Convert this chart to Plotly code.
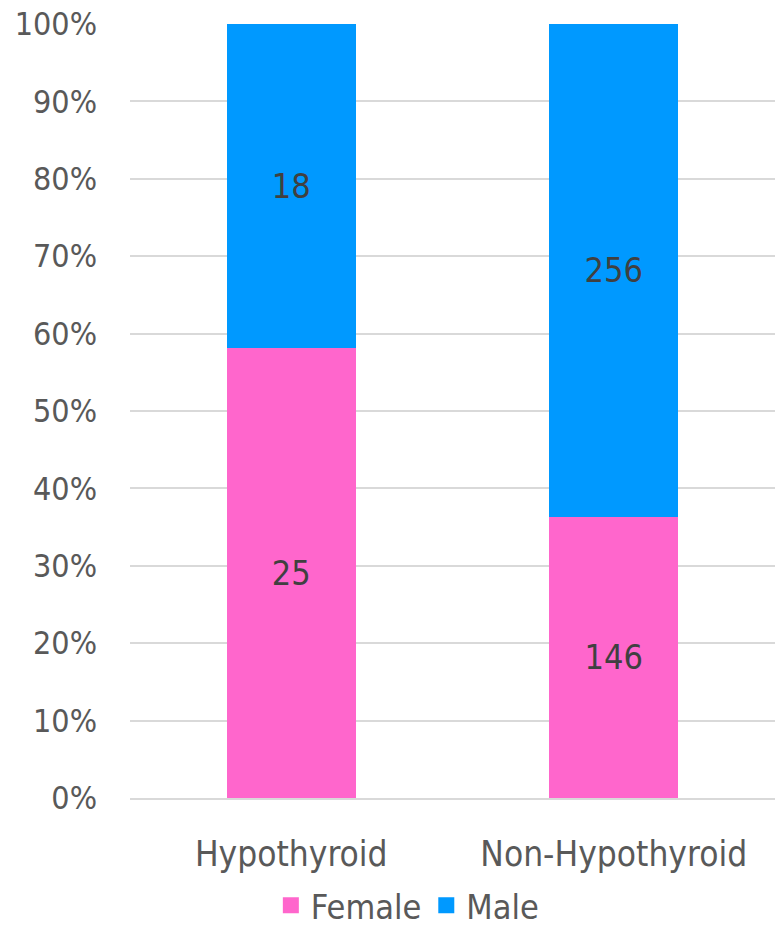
import plotly.graph_objects as go

categories = ["Hypothyroid", "Non-Hypothyroid"]
female_counts = [25, 146]
male_counts = [18, 256]
y_ticks = [0, 10, 20, 30, 40, 50, 60, 70, 80, 90, 100]

FONT = "DejaVu Sans Condensed, DejaVu Sans"
female_color = "#FF66CC"
male_color = "#0099FF"

totals = [f + m for f, m in zip(female_counts, male_counts)]
female_pct = [100 * f / t for f, t in zip(female_counts, totals)]
male_pct = [100 * m / t for m, t in zip(male_counts, totals)]

fig = go.Figure()
for name, pct, counts, color in [
    ("Female", female_pct, female_counts, female_color),
    ("Male", male_pct, male_counts, male_color),
]:
    fig.add_trace(go.Bar(
        name=name, x=categories, y=pct,
        text=[str(v) for v in counts],
        marker=dict(color=color, line=dict(width=0)),
        textposition="inside", insidetextanchor="middle",
        textfont=dict(family=FONT, size=34, color="#404040"),
        hoverinfo="skip", width=0.4, showlegend=False,
    ))

# legend entries with larger square swatches
for name, color in [("Female", female_color), ("Male", male_color)]:
    fig.add_trace(go.Scatter(
        name=name, x=[None], y=[None], mode="markers",
        marker=dict(symbol="square", size=19, color=color),
        hoverinfo="skip",
    ))

fig.update_layout(
    barmode="stack",
    width=775, height=927,
    margin=dict(l=130, r=0, t=24, b=129),
    paper_bgcolor="white", plot_bgcolor="white",
    font=dict(family=FONT, color="#595959", size=33),
    legend=dict(
        orientation="h", x=0.43, xanchor="center",
        yref="container", y=0.023, yanchor="middle",
        font=dict(family=FONT, size=34, color="#595959"),
        itemwidth=30, traceorder="normal",
    ),
    xaxis=dict(
        range=[-0.5, 1.5], showgrid=False, showline=True,
        linecolor="#D9D9D9", linewidth=2, ticks="",
        tickfont=dict(family=FONT, size=35, color="#595959"),
        ticklabelstandoff=24,
    ),
    yaxis=dict(
        range=[0, 100], tickvals=y_ticks,
        ticktext=[f"{v}%" for v in y_ticks],
        showgrid=True, gridcolor="#D9D9D9", gridwidth=2,
        zeroline=False, showline=False, ticks="",
        tickfont=dict(family=FONT, size=32, color="#595959"),
        ticklabelstandoff=32,
    ),
)

fig.write_html("out.html")
